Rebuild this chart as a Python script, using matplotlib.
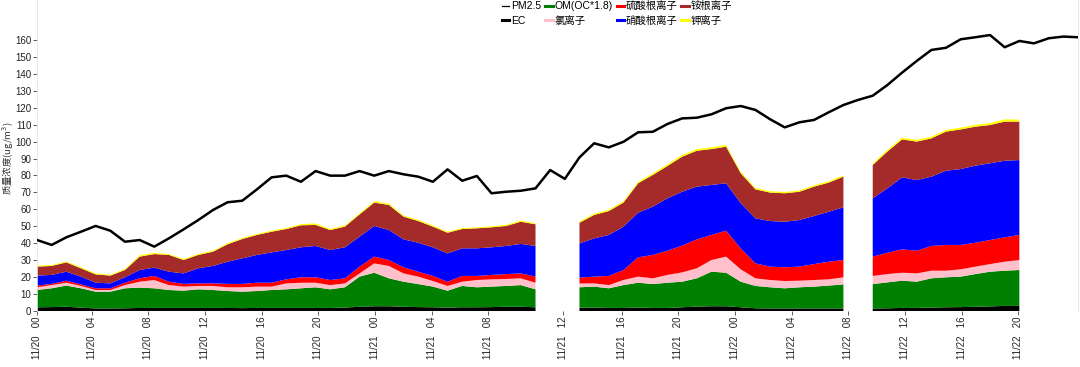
import numpy as np
import matplotlib
matplotlib.use("Agg")
import matplotlib.pyplot as plt
from matplotlib.lines import Line2D

nan = np.nan

# hourly samples, 11/20 00 onward
pm25 = [41.9, 39.0, 43.5, 46.8, 50.2, 47.4, 40.9, 41.9, 38.0, 42.9,
        48.2, 53.7, 59.6, 64.2, 65.1, 71.8, 78.9, 79.9, 76.3, 82.6,
        79.9, 79.9, 82.6, 79.9, 82.6, 80.7, 79.3, 76.3, 83.6, 76.9,
        79.7, 69.5, 70.4, 71.0, 72.4, 83.2, 78.0, 90.7, 99.0, 96.6,
        99.9, 105.5, 105.8, 110.4, 113.7, 114.1, 116.1, 119.7, 121.0, 118.7,
        113.2, 108.4, 111.4, 112.8, 117.3, 121.6, 124.6, 127.1, 133.4, 140.7,
        147.6, 154.1, 155.4, 160.4, 161.6, 162.9, 155.7, 159.4, 158.0, 161.0,
        162.0, 161.6]

ec = [2.2, 2.3, 2.5, 2.0, 1.5, 1.5, 1.6, 1.8, 1.8, 1.8, 1.8, 1.8, 1.8, 1.8, 1.7,
      1.8, 1.8, 1.8, 1.8, 1.8, 1.8, 2.0, 2.5, 2.8, 2.8, 2.5, 2.3, 2.2, 2.0, 2.2,
      2.2, 2.3, 2.5, 2.5, 2.2, nan, nan,
      2.0, 2.0, 1.8, 1.8, 2.0, 1.8, 1.8, 2.2, 2.6, 2.8, 2.8, 2.2, 1.6, 1.5, 1.5,
      1.5, 1.5, 1.5, 1.5, nan,
      1.5, 1.6, 1.8, 1.8, 2.0, 2.2, 2.3, 2.5, 2.7, 3.0, 3.0, nan, nan, nan, nan]

om = [10.2, 11.1, 12.5, 11.4, 9.9, 9.9, 11.8, 12.0, 11.6, 10.6, 10.2, 11.0, 10.6,
      10.0, 9.7, 10.0, 10.6, 11.0, 11.6, 12.2, 11.0, 12.0, 17.8, 19.8, 16.5, 14.8,
      13.6, 12.2, 10.0, 12.6, 11.8, 12.1, 12.3, 12.8, 10.6, nan, nan,
      12.0, 12.4, 11.6, 13.5, 14.7, 14.1, 14.9, 15.1, 16.7, 20.4, 19.8, 15.1, 13.2,
      12.5, 11.9, 12.5, 12.9, 13.5, 14.2, nan,
      14.4, 15.3, 16.1, 15.5, 17.3, 17.7, 18.0, 19.3, 20.5, 20.8, 21.2, nan, nan, nan, nan]

chloride = [1.6, 1.9, 1.7, 1.4, 1.0, 1.0, 1.9, 3.5, 4.9, 2.9, 2.4, 2.0, 2.4, 2.2, 2.6,
            2.6, 2.0, 3.5, 3.3, 2.7, 2.5, 2.3, 1.9, 5.5, 7.3, 4.9, 4.4, 3.3, 2.8, 2.5,
            4.3, 4.3, 4.1, 4.0, 3.9, nan, nan,
            2.3, 1.9, 1.9, 3.0, 3.6, 3.4, 4.6, 5.5, 5.9, 6.9, 9.5, 7.3, 4.5, 4.3, 4.3,
            3.9, 3.9, 3.7, 4.2, nan,
            4.8, 4.9, 4.7, 4.9, 4.5, 3.9, 4.3, 4.4, 4.5, 5.3, 5.9, nan, nan, nan, nan]

sulfate = [1.0, 0.7, 1.2, 0.9, 1.0, 1.0, 1.4, 2.0, 2.4, 2.0, 1.6, 1.5, 1.5, 2.0, 2.0,
           2.3, 2.3, 2.4, 3.2, 3.2, 3.0, 3.0, 4.0, 4.0, 3.5, 3.6, 2.9, 3.0, 2.5, 3.4,
           2.4, 2.6, 2.9, 2.9, 3.6, nan, nan,
           3.4, 4.0, 5.4, 5.9, 11.4, 13.8, 14.3, 15.8, 17.1, 14.8, 15.3, 12.4, 8.8,
           7.9, 8.1, 8.3, 9.4, 10.4, 10.2, nan,
           11.4, 12.6, 13.8, 13.4, 14.6, 15.2, 14.4, 14.1, 14.2, 14.4, 14.8, nan, nan, nan, nan]

nitrate = [5.9, 5.3, 5.3, 4.6, 3.3, 2.9, 3.2, 4.9, 4.9, 5.9, 6.2, 8.9, 10.3, 13.1, 15.1,
           16.4, 17.9, 17.3, 17.7, 18.5, 17.7, 18.3, 17.7, 18.1, 17.7, 16.5, 17.1, 16.9,
           16.7, 16.3, 16.3, 16.3, 16.6, 17.4, 18.1, nan, nan,
           20.2, 22.6, 24.2, 25.6, 26.3, 28.5, 30.9, 31.8, 31.1, 29.5, 28.0, 26.6, 26.6,
           26.9, 26.9, 27.5, 28.4, 29.5, 31.1, nan,
           34.4, 38.0, 42.5, 41.7, 40.9, 43.8, 44.8, 45.5, 45.3, 45.2, 44.2, nan, nan, nan, nan]

ammonium = [5.3, 5.3, 5.5, 4.9, 4.9, 4.6, 4.3, 7.9, 8.0, 9.9, 7.9, 7.9, 8.4, 10.3, 11.4,
            11.8, 12.2, 12.4, 13.0, 12.4, 11.8, 12.2, 13.1, 13.8, 14.8, 13.4, 12.8, 12.2,
            12.2, 11.4, 11.8, 11.8, 11.8, 13.1, 12.8, nan, nan,
            12.2, 13.8, 14.1, 14.2, 17.4, 18.7, 19.1, 20.7, 21.2, 21.2, 21.6, 17.7, 17.1,
            16.8, 16.8, 16.7, 17.3, 17.2, 18.1, nan,
            19.7, 21.7, 22.4, 22.7, 22.6, 23.1, 23.4, 23.0, 22.6, 23.1, 22.7, nan, nan, nan, nan]

potassium = [0.6, 0.5, 0.6, 0.6, 0.6, 0.5, 0.6, 0.8, 0.7, 0.5, 0.6, 0.6, 0.6, 0.6, 0.6,
             0.6, 0.6, 0.6, 0.7, 0.9, 0.7, 0.7, 0.7, 0.8, 0.8, 0.7, 0.7, 0.7, 0.6, 0.6,
             0.6, 0.6, 0.7, 0.7, 0.6, nan, nan,
             0.8, 0.8, 0.8, 0.8, 0.9, 0.9, 1.0, 1.0, 1.0, 1.0, 1.0, 0.9, 0.8, 0.8, 0.8,
             0.8, 0.8, 0.8, 0.8, nan,
             1.0, 1.0, 1.0, 1.0, 1.0, 1.0, 1.1, 1.1, 1.2, 1.3, 1.2, nan, nan, nan, nan]

series_labels = ["EC", "OM(OC*1.8)", "氯离子", "硫酸根离子", "硝酸根离子", "铵根离子", "钾离子"]
series_colors = ["#000000", "#008000", "#FFC0CB", "#FF0000", "#0000FF", "#A52A2A", "#FFFF00"]

tick_labels = ["11/20   00", "11/20   04", "11/20   08", "11/20   12", "11/20   16",
               "11/20   20", "11/21   00", "11/21   04", "11/21   08", "11/21   12",
               "11/21   16", "11/21   20", "11/22   00", "11/22   04", "11/22   08",
               "11/22   12", "11/22   16", "11/22   20"]
tick_pos = [0, 3.75, 7.57, 11.46, 15.35, 19.17, 23.06, 26.94, 30.76, 35.88,
            39.90, 43.72, 47.61, 51.50, 55.32, 59.21, 63.10, 66.92]

plt.rcParams['font.family'] = ['Liberation Sans', 'Noto Sans CJK SC', 'DejaVu Sans']

W, H = 1080, 367
fig = plt.figure(figsize=(W / 100, H / 100), dpi=100)
ax = fig.add_axes([37 / W, 1 - 311 / H, 1041 / W, 311 / H])

x = np.arange(len(pm25))
layers = [ec, om, chloride, sulfate, nitrate, ammonium, potassium]
ax.stackplot(x, *[np.array(l, dtype=float) for l in layers],
             colors=series_colors, linewidth=0, antialiased=True)
ax.plot(x, pm25, color="black", lw=1.8, zorder=5)

ax.set_xlim(0, len(pm25) - 1)
ax.set_ylim(0, 311 / 1.694)
ax.set_yticks(np.arange(0, 161, 10))
ax.set_xticks(tick_pos)
ax.set_xticklabels(tick_labels, rotation=90)
ax.tick_params(axis="both", labelsize=7, length=3, width=0.6, pad=1,
               color="#444444", labelcolor="#222222")

for s in ["top", "bottom"]:
    ax.spines[s].set_visible(False)
for s in ["left", "right"]:
    ax.spines[s].set_color("#e4e4e4")
    ax.spines[s].set_linewidth(0.6)

fig.text(8 / W, 1 - 158 / H, "质量浓度(ug/m$^3$)", rotation=90, ha="center",
         va="center", fontsize=6.8, color="#333333",
         family=['Noto Sans CJK SC', 'DejaVu Sans'])

handles = [Line2D([], [], color="black", lw=0.9)]
labels = ["PM2.5"]
handles.append(Line2D([], [], color=series_colors[0], lw=2.2))
labels.append(series_labels[0])
for c, l in zip(series_colors[1:], series_labels[1:]):
    handles.append(Line2D([], [], color=c, lw=2.2))
    labels.append(l)
fig.legend(handles, labels, ncol=4, loc="upper left",
           bbox_to_anchor=(500 / W, 1 + 1 / H), frameon=False, fontsize=7.5,
           handlelength=0.7, handletextpad=0.2, columnspacing=0.35,
           labelspacing=0.45, borderpad=0.2, borderaxespad=0)

fig.savefig("out.png", dpi=100)
